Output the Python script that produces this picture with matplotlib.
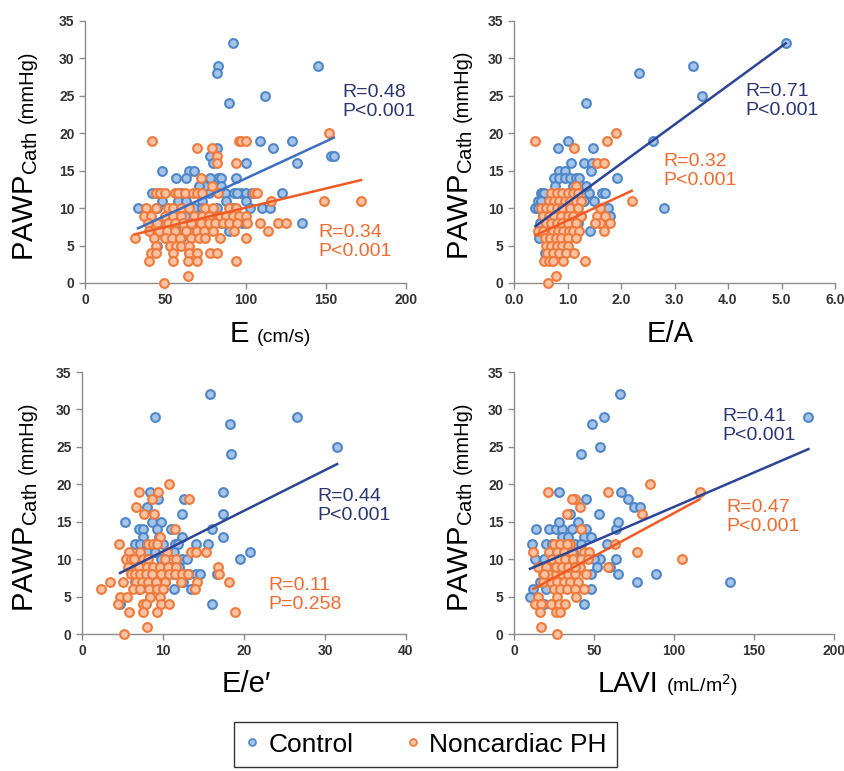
import matplotlib
matplotlib.use("Agg")
import matplotlib.pyplot as plt
import numpy as np

plt.rcParams['font.family'] = ['Liberation Sans', 'DejaVu Sans']

# ---------------- data ----------------
# Panel A: E (cm/s)
e_ctrl_x = [92, 83, 82, 145, 90, 112, 109, 129, 117, 82, 78, 80, 100, 132, 153, 155, 48, 65, 68, 57,
            63, 83, 85, 94, 42, 45, 46, 60, 77, 87, 93, 97, 100, 104, 123, 33, 45, 55, 68, 88,
            100, 110, 115, 135, 98, 100, 40, 50, 47, 90, 55, 60, 45, 65, 75, 71, 85, 62, 70, 80,
            52, 58, 63, 73, 48, 82, 92, 103, 40, 67, 75, 85, 57, 65, 95, 78, 73]
e_ctrl_y = [32, 29, 28, 29, 24, 25, 19, 19, 18, 18, 17, 16, 16, 16, 17, 17, 15, 15, 15, 14,
            14, 14, 14, 14, 12, 12, 12, 12, 12, 12, 12, 12, 12, 12, 12, 10, 10, 10, 10, 11,
            11, 10, 10, 8, 8, 8, 8, 8, 7, 7, 6, 6, 5, 4, 13, 13, 13, 9, 9, 9,
            9, 11, 11, 11, 11, 10, 10, 10, 9, 8, 8, 8, 7, 7, 12, 14, 10]
e_ph_x = [42, 96, 97, 100, 152, 70, 79, 82, 82, 94, 72, 79, 44, 47, 50, 56, 58, 62, 67, 70,
          73, 83, 105, 107, 116, 149, 172, 38, 44, 52, 55, 60, 65, 75, 80, 90, 94, 37, 41, 50,
          55, 60, 68, 73, 77, 84, 88, 92, 96, 100, 39, 45, 52, 56, 61, 66, 72, 77, 81, 86,
          90, 95, 101, 109, 120, 125, 40, 46, 51, 56, 63, 70, 74, 80, 93, 114, 31, 43, 50, 54,
          59, 66, 71, 75, 84, 100, 44, 53, 57, 60, 65, 41, 44, 55, 65, 70, 78, 82, 40, 55,
          64, 70, 94, 64, 49]
e_ph_y = [19, 19, 19, 19, 20, 18, 18, 17, 16, 16, 14, 13, 12, 12, 12, 12, 12, 12, 12, 12,
          12, 12, 12, 12, 11, 11, 11, 10, 10, 10, 10, 10, 10, 10, 10, 10, 10, 9, 9, 9,
          9, 9, 9, 9, 9, 9, 9, 9, 9, 9, 8, 8, 8, 8, 8, 8, 8, 8, 8, 8,
          8, 8, 8, 8, 8, 8, 7, 7, 7, 7, 7, 7, 7, 7, 7, 7, 6, 6, 6, 6,
          6, 6, 6, 6, 6, 6, 5, 5, 5, 5, 5, 4, 4, 4, 4, 4, 4, 4, 3, 3,
          3, 3, 3, 1, 0]

# Panel B: E/A
ea_ctrl_x = [5.08, 3.35, 2.33, 3.52, 1.35, 2.6, 1.0, 0.83, 1.48, 1.07, 1.3, 1.45, 0.85, 0.95, 1.44,
             0.75, 0.85, 0.95, 1.05, 1.15, 1.22, 1.93, 0.77, 1.1, 0.5, 0.52, 0.56, 1.4, 1.65, 1.7,
             0.45, 0.5, 1.3, 1.5, 0.4, 0.45, 1.0, 1.1, 1.75, 2.8, 0.55, 0.9, 1.25, 1.8, 0.48,
             1.2, 1.6, 1.42, 0.6, 1.15, 0.47, 0.58, 0.9, 0.7, 1.0, 0.8, 0.65, 1.35, 0.6, 0.75]
ea_ctrl_y = [32, 29, 28, 25, 24, 19, 19, 18, 18, 16, 16, 16, 15, 15, 15,
             14, 14, 14, 14, 14, 14, 14, 13, 13, 12, 12, 12, 12, 12, 12,
             11, 11, 11, 11, 10, 10, 10, 10, 10, 10, 9, 9, 9, 9, 8,
             8, 8, 7, 7, 7, 6, 4, 6, 8, 12, 10, 11, 13, 9, 7]
ea_ph_x = [0.4, 1.12, 1.9, 1.73, 1.55, 1.68, 1.15, 2.2,
           0.7, 0.8, 0.9, 1.0, 1.1, 1.2,
           0.65, 0.75, 0.85, 0.95, 1.05, 1.15, 1.25,
           0.5, 0.6, 0.7, 0.8, 0.9, 1.05, 1.2, 1.6,
           0.55, 0.65, 0.75, 0.88, 1.0, 1.1, 1.25, 1.55, 1.7,
           0.6, 0.7, 0.8, 0.9, 1.0, 1.15, 1.6, 1.8, 1.52,
           0.45, 0.55, 0.72, 0.82, 0.92, 1.02, 1.1, 1.22, 1.68,
           0.58, 0.68, 0.78, 0.88, 1.0, 1.15,
           0.6, 0.7, 0.8, 0.9, 1.0,
           0.62, 0.72, 0.85, 0.98, 1.12,
           0.56, 0.66, 0.72, 0.92, 1.32,
           0.78, 0.63]
ea_ph_y = [19, 18, 20, 19, 16, 16, 13, 11,
           12, 12, 12, 12, 12, 12,
           11, 11, 11, 11, 11, 11, 11,
           10, 10, 10, 10, 10, 10, 10, 10,
           9, 9, 9, 9, 9, 9, 9, 9, 9,
           8, 8, 8, 8, 8, 8, 8, 8, 8,
           7, 7, 7, 7, 7, 7, 7, 7, 7,
           6, 6, 6, 6, 6, 6,
           5, 5, 5, 5, 5,
           4, 4, 4, 4, 4,
           3, 3, 3, 3, 3,
           1, 0]

# Panel C: E/e'
ee_ctrl_x = [15.8, 9, 26.5, 18.3, 31.5, 18.4, 8.4, 9.4, 12.6, 17.4, 8.0, 17.4, 12.3, 5.3, 8.6, 9.8,
             7, 7.5, 9.3, 11, 16, 7.5, 9.5, 12.4, 17.4, 6.5, 7.2, 8, 11.5, 14.1, 15.6, 20.7,
             8, 9, 11.4, 19.5, 8, 9.8, 12.4, 7.2, 10.4, 12, 16.7, 12.6, 13.2, 14.1, 14.6, 11.2,
             10.3, 6.5, 12.5, 8.3, 11.3, 13.4, 16, 4.7, 8.4, 10, 13, 7, 11.8, 9.1, 10.9]
ee_ctrl_y = [32, 29, 29, 28, 25, 24, 19, 18, 18, 19, 17, 16, 16, 15, 15, 15,
             14, 14, 14, 14, 14, 13, 13, 13, 13, 12, 12, 12, 12, 12, 12, 11,
             11, 11, 11, 10, 10, 10, 10, 9, 9, 9, 8, 8, 8, 8, 8, 8,
             7, 7, 7, 6, 6, 6, 4, 4, 5, 12, 10, 6, 12, 8, 9]
ee_ph_x = [10.8, 7, 9.4, 8.7, 13.2, 6.7, 7.7, 8.9, 11.5, 9.6, 4.6, 8.1, 8.8, 9.3, 5.8, 7.1,
           10.5, 13.5, 14.1, 15.3, 5.4, 6.1, 6.4, 7.5, 8.2, 10.3, 11.6, 5.7, 7, 8, 8.8, 9.6,
           10.6, 11.6, 16.8, 6, 6.5, 7.2, 7.9, 8.7, 9.7, 10.7, 11.5, 12.3, 13.1, 16.9, 3.5, 5,
           6.7, 7.4, 8.1, 9.1, 10.3, 12.2, 14.2, 18.2, 2.3, 6.3, 7.2, 8.3, 9.2, 10, 14, 4.7,
           5.5, 8.4, 9.6, 4.5, 7.5, 7.9, 9.7, 10.8, 5.8, 7.5, 9.3, 18.9, 8, 5.2]
ee_ph_y = [20, 19, 19, 18, 18, 17, 16, 16, 14, 13, 12, 12, 12, 12, 11, 11,
           11, 11, 11, 11, 10, 10, 10, 10, 10, 10, 10, 9, 9, 9, 9, 9,
           9, 9, 9, 8, 8, 8, 8, 8, 8, 8, 8, 8, 8, 8, 7, 7,
           7, 7, 7, 7, 7, 7, 7, 7, 6, 6, 6, 6, 6, 6, 6, 5,
           5, 5, 5, 4, 4, 4, 4, 4, 3, 3, 3, 3, 1, 0]

# Panel D: LAVI (mL/m2)
la_ctrl_x = [66, 184, 56, 49, 54, 42, 67, 28, 71, 45, 75, 79, 53, 35, 14, 22, 26, 30, 36, 40, 45,
             64, 65, 28, 20, 24, 32, 38, 44, 48, 58, 11, 13, 19, 23, 27, 37, 54, 64, 50, 18,
             22, 52, 60, 16, 89, 77, 135, 48, 65, 12, 20, 48, 10, 19, 44, 30, 34, 42, 26, 40, 30]
la_ctrl_y = [32, 29, 29, 28, 25, 24, 19, 19, 18, 18, 17, 17, 16, 16, 14, 14, 14, 14, 14, 15, 14,
             14, 15, 15, 12, 12, 12, 12, 13, 13, 12, 12, 10, 10, 11, 10, 11, 10, 10, 10, 9,
             9, 9, 9, 7, 8, 7, 7, 8, 8, 6, 6, 6, 5, 4, 4, 13, 13, 12, 9, 10, 8]
la_ph_x = [21, 59, 85, 116, 38, 36, 41, 33, 80, 42, 63, 77, 105, 59, 12, 15, 18, 22, 26, 30, 34,
           38, 45, 25, 29, 35, 22, 27, 31, 36, 44, 47, 24, 28, 32, 37, 42, 20, 26, 30, 34,
           38, 41, 18, 23, 27, 31, 35, 40, 25, 29, 33, 38, 44, 15, 27, 39, 13, 17, 23, 28,
           32, 16, 26, 29, 17, 27, 19, 33, 38, 46]
la_ph_y = [19, 19, 20, 19, 18, 18, 17, 16, 16, 14, 12, 11, 10, 9, 11, 9, 8, 8, 8, 8, 8,
           8, 8, 12, 12, 12, 11, 11, 11, 11, 11, 11, 10, 10, 10, 10, 10, 9, 9, 9, 9,
           9, 9, 7, 7, 7, 7, 7, 7, 6, 6, 6, 6, 6, 5, 5, 5, 4, 4, 4, 4,
           4, 3, 3, 3, 1, 0, 8, 12, 9, 10]

# Regression fits (slope, intercept); None = no line
fits = {
    'E':    {'ctrl': (0.0992, 4.03), 'ph': (0.0514, 4.91)},
    'EA':   {'ctrl': (5.22, 5.5),    'ph': (3.30, 5.05)},
    'Ee':   {'ctrl': (0.543, 5.6),   'ph': None},
    'LAVI': {'ctrl': (0.0919, 7.79), 'ph': (0.1152, 4.63)},
}
stats_ctrl = ['R=0.48\nP<0.001', 'R=0.71\nP<0.001', 'R=0.44\nP<0.001', 'R=0.41\nP<0.001']
stats_ph = ['R=0.34\nP<0.001', 'R=0.32\nP<0.001', 'R=0.11\nP=0.258', 'R=0.47\nP<0.001']
series_names = ['Control', 'Noncardiac PH']

# ---------------- style ----------------
W, H = 844, 771
fig = plt.figure(figsize=(W / 100, H / 100), dpi=100)

CTRL_FACE, CTRL_EDGE = '#a6c4e8', '#4f86c8'
PH_FACE, PH_EDGE = '#f9c3a3', '#f07a3c'
LINE_BLUE_LIGHT = '#3f6fc2'
LINE_BLUE_DARK = '#2c4596'
LINE_ORANGE = '#f05a24'
TXT_BLUE = '#2b3670'
TXT_ORANGE = '#f26a30'
TICK_COL = '#333333'
SPINE_COL = '#8c8c8c'


def px_rect(l, r, top, bottom):
    return [l / W, 1 - bottom / H, (r - l) / W, (bottom - top) / H]


panels = [
    dict(key='E', rect=px_rect(85, 406, 21, 283), xlim=(0, 200), xticks=[0, 50, 100, 150, 200], fmt='{:.0f}',
         cx=e_ctrl_x, cy=e_ctrl_y, px=e_ph_x, py=e_ph_y, cline=LINE_BLUE_LIGHT,
         ctxt=(160.5, 26.6), ptxt=(145.5, 7.9),
         xlab=('E', '(cm/s)'), xlab_pos=(230, 342), ylab_pos=(33, 261)),
    dict(key='EA', rect=px_rect(514, 835, 21, 283), xlim=(0, 6), xticks=[0, 1, 2, 3, 4, 5, 6], fmt='{:.1f}',
         cx=ea_ctrl_x, cy=ea_ctrl_y, px=ea_ph_x, py=ea_ph_y, cline=LINE_BLUE_DARK,
         ctxt=(4.32, 26.7), ptxt=(2.79, 17.4),
         xlab=('E/A', None), xlab_pos=(647, 342), ylab_pos=(468, 260)),
    dict(key='Ee', rect=px_rect(82, 406, 372, 634), xlim=(0, 40), xticks=[0, 10, 20, 30, 40], fmt='{:.0f}',
         cx=ee_ctrl_x, cy=ee_ctrl_y, px=ee_ph_x, py=ee_ph_y, cline=LINE_BLUE_DARK,
         ctxt=(29.1, 19.5), ptxt=(23.0, 7.6),
         xlab=('E/e\u2032', None), xlab_pos=(222, 692), ylab_pos=(33, 612)),
    dict(key='LAVI', rect=px_rect(514, 834, 372, 634), xlim=(0, 200), xticks=[0, 50, 100, 150, 200], fmt='{:.0f}',
         cx=la_ctrl_x, cy=la_ctrl_y, px=la_ph_x, py=la_ph_y, cline=LINE_BLUE_DARK,
         ctxt=(130, 30.2), ptxt=(133, 18.0),
         xlab=('LAVI', '(mL/m$^2$)'), xlab_pos=(598, 692), ylab_pos=(468, 612)),
]

for i, p in enumerate(panels):
    ax = fig.add_axes(p['rect'])
    ax.set_xlim(*p['xlim'])
    ax.set_ylim(0, 35)
    ax.set_xticks(p['xticks'])
    ax.set_xticklabels([p['fmt'].format(v) for v in p['xticks']])
    ax.set_yticks(range(0, 36, 5))
    for s in ['top', 'right']:
        ax.spines[s].set_visible(False)
    for s in ['left', 'bottom']:
        ax.spines[s].set_color(SPINE_COL)
        ax.spines[s].set_linewidth(1.0)
    ax.tick_params(axis='both', colors=SPINE_COL, labelcolor=TICK_COL, labelsize=10,
                   length=4, width=1.0, direction='out')
    for lab in ax.get_xticklabels() + ax.get_yticklabels():
        lab.set_fontweight('bold')

    ax.scatter(p['cx'], p['cy'], s=40, facecolor=CTRL_FACE, edgecolor=CTRL_EDGE, linewidth=1.5,
               zorder=3, clip_on=False)
    ax.scatter(p['px'], p['py'], s=40, facecolor=PH_FACE, edgecolor=PH_EDGE, linewidth=1.5,
               zorder=3, clip_on=False)

    fc = fits[p['key']]['ctrl']
    xs = np.array([min(p['cx']), max(p['cx'])])
    ax.plot(xs, fc[0] * xs + fc[1], color=p['cline'], lw=1.8, zorder=4)
    fp = fits[p['key']]['ph']
    if fp is not None:
        xs = np.array([min(p['px']), max(p['px'])])
        ax.plot(xs, fp[0] * xs + fp[1], color=LINE_ORANGE, lw=1.8, zorder=4)

    ax.text(p['ctxt'][0], p['ctxt'][1], stats_ctrl[i], color=TXT_BLUE, fontsize=14,
            ha='left', va='top', linespacing=1.15, zorder=5)
    ax.text(p['ptxt'][0], p['ptxt'][1], stats_ph[i], color=TXT_ORANGE, fontsize=14,
            ha='left', va='top', linespacing=1.15, zorder=5)

    # y label: PAWP_Cath (mmHg)
    yx, yy = p['ylab_pos']
    t1 = fig.text(yx / W, 1 - yy / H, 'PAWP$_{\\mathregular{Cath}}$', fontsize=21, rotation=90,
                  rotation_mode='anchor', ha='left', va='baseline', color='black')
    fig.add_artist(matplotlib.text.Annotation(
        '(mmHg)', xy=(yx / W, 1.0), xycoords=('figure fraction', t1),
        xytext=(0, 6), textcoords='offset points', fontsize=14.5, rotation=90,
        rotation_mode='anchor', ha='left', va='baseline', color='black'))

    # x label
    lx, ly = p['xlab_pos']
    big, small = p['xlab']
    t2 = fig.text(lx / W, 1 - ly / H, big, fontsize=21, ha='left', va='baseline', color='black')
    if small:
        fig.add_artist(matplotlib.text.Annotation(
            small, xy=(1.0, 1 - ly / H), xycoords=(t2, 'figure fraction'),
            xytext=(5, 0), textcoords='offset points', fontsize=14,
            ha='left', va='baseline', color='black'))

# legend
h1 = plt.Line2D([], [], ls='none', marker='o', ms=5, mfc=CTRL_FACE, mec=CTRL_EDGE, mew=1.2)
h2 = plt.Line2D([], [], ls='none', marker='o', ms=5, mfc=PH_FACE, mec=PH_EDGE, mew=1.2)
leg = fig.legend([h1, h2], series_names, loc='upper left', bbox_to_anchor=(234 / W, 1 - 722 / H),
                 ncol=2, fontsize=19, frameon=True, fancybox=False, edgecolor='black',
                 handlelength=0.6, handletextpad=0.3, columnspacing=1.95, borderpad=0.4,
                 borderaxespad=0)
leg.get_frame().set_linewidth(1.0)

fig.savefig('out.png', dpi=100)
